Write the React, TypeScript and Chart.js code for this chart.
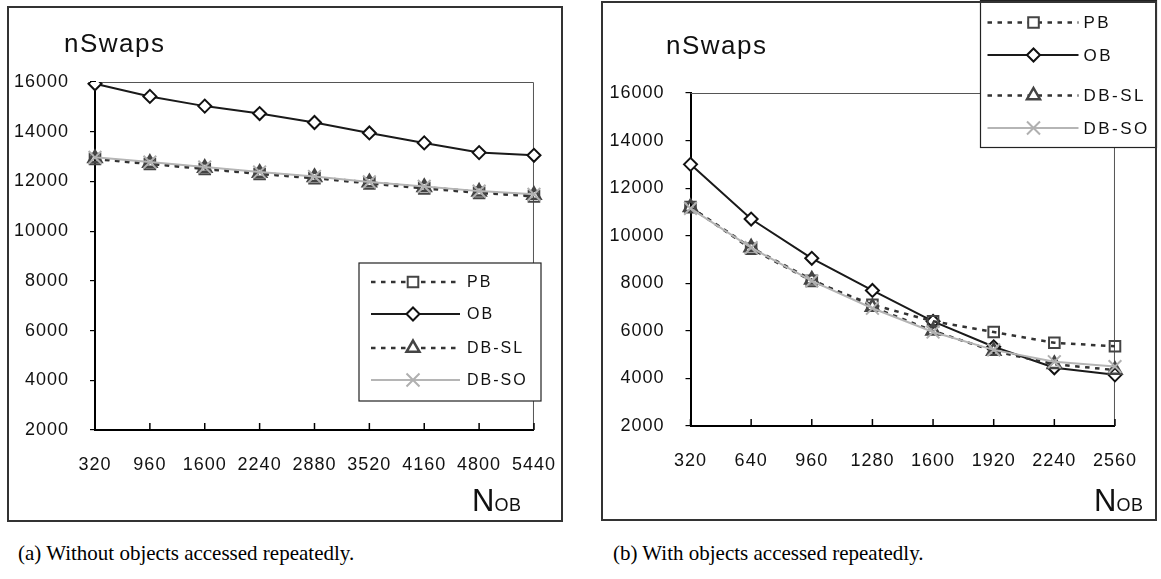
import React, { useEffect, useRef } from "react";
import { Chart, registerables } from "chart.js";

Chart.register(...registerables);

// ---------- data ----------
const seriesNames = ["PB", "OB", "DB-SL", "DB-SO"];
const yMin = 2000;
const yMax = 16000;
const yStep = 2000;

const catsA = ["320", "960", "1600", "2240", "2880", "3520", "4160", "4800", "5440"];
const pbA = [12900, 12700, 12500, 12300, 12130, 11920, 11720, 11540, 11400];
const obA = [15930, 15420, 15030, 14730, 14370, 13950, 13550, 13160, 13050];
const dbslA = [12930, 12740, 12540, 12340, 12170, 11960, 11770, 11580, 11450];
const dbsoA = [12970, 12780, 12580, 12380, 12200, 11980, 11800, 11610, 11480];

const catsB = ["320", "640", "960", "1280", "1600", "1920", "2240", "2560"];
const pbB = [11200, 9450, 8100, 7100, 6400, 5950, 5500, 5350];
const obB = [13000, 10700, 9050, 7700, 6400, 5330, 4450, 4150];
const dbslB = [11200, 9500, 8150, 7000, 6000, 5150, 4600, 4350];
const dbsoB = [11150, 9500, 8100, 6950, 5950, 5200, 4700, 4500];

const yTitle = "nSwaps";
const xTitleMain = "N";
const xTitleSub = "OB";
const captionA = "(a) Without objects accessed repeatedly.";
const captionB = "(b) With objects accessed repeatedly.";

// ---------- styles ----------
const styles = [
  { color: "#333333", dash: [4.5, 5.5], width: 2.5, point: "rect", radius: 7.5, pColor: "#444444", pFill: "rgba(255,255,255,0)", pWidth: 2, order: 2 },
  { color: "#1a1a1a", dash: [], width: 2, point: "rectRot", radius: 6.5, pColor: "#111111", pFill: "#ffffff", pWidth: 2, order: 3 },
  { color: "#333333", dash: [4.5, 5.5], width: 2.5, point: "triangle", radius: 7.5, pColor: "#444444", pFill: "rgba(255,255,255,0)", pWidth: 2.5, order: 1 },
  { color: "#b5b5b5", dash: [], width: 2, point: "crossRot", radius: 9, pColor: "#b0b0b0", pFill: "rgba(255,255,255,0)", pWidth: 2, order: 0 },
];

const TICK_FONT = { family: "'Liberation Sans', Arial, sans-serif", size: 18 };

function drawMarker(ctx: CanvasRenderingContext2D, kind: string, x: number, y: number, st: any) {
  ctx.save();
  ctx.setLineDash([]);
  ctx.lineWidth = st.pWidth;
  ctx.strokeStyle = st.pColor;
  ctx.fillStyle = "#ffffff";
  ctx.beginPath();
  if (kind === "rect") {
    const s = 5.3;
    ctx.rect(x - s, y - s, 2 * s, 2 * s);
    ctx.fill();
    ctx.stroke();
  } else if (kind === "rectRot") {
    const r = 6.5;
    ctx.moveTo(x - r, y);
    ctx.lineTo(x, y - r);
    ctx.lineTo(x + r, y);
    ctx.lineTo(x, y + r);
    ctx.closePath();
    ctx.fill();
    ctx.stroke();
  } else if (kind === "triangle") {
    const r = 7.5;
    ctx.moveTo(x, y - r);
    ctx.lineTo(x + r * 0.866, y + r * 0.5);
    ctx.lineTo(x - r * 0.866, y + r * 0.5);
    ctx.closePath();
    ctx.fill();
    ctx.stroke();
  } else {
    const r = 6.5;
    ctx.moveTo(x - r, y - r);
    ctx.lineTo(x + r, y + r);
    ctx.moveTo(x + r, y - r);
    ctx.lineTo(x - r, y + r);
    ctx.stroke();
  }
  ctx.restore();
}

const decorPlugin = {
  id: "decor",
  beforeUpdate(chart: any) {
    chart.ctx.letterSpacing = "1px";
  },
  beforeDraw(chart: any) {
    chart.ctx.letterSpacing = "1px";
  },
  beforeDatasetsDraw(chart: any) {
    const { ctx, chartArea: a } = chart;
    ctx.save();
    ctx.strokeStyle = "#555555";
    ctx.lineWidth = 1;
    ctx.beginPath();
    ctx.moveTo(a.left, a.top + 0.5);
    ctx.lineTo(a.right - 0.5, a.top + 0.5);
    ctx.lineTo(a.right - 0.5, a.bottom);
    ctx.stroke();
    const xs = chart.scales.x;
    ctx.strokeStyle = "#000000";
    ctx.lineWidth = 1.5;
    xs.ticks.forEach((_: any, i: number) => {
      const px = xs.getPixelForTick(i);
      ctx.beginPath();
      ctx.moveTo(px, a.bottom);
      ctx.lineTo(px, a.bottom - 7);
      ctx.stroke();
    });
    ctx.restore();
  },
  afterDraw(chart: any, _args: any, opts: any) {
    const lg = opts && opts.box;
    if (!lg) return;
    const { ctx } = chart;
    ctx.save();
    ctx.fillStyle = "#ffffff";
    ctx.fillRect(lg.x, lg.y, lg.w, lg.h);
    ctx.strokeStyle = "#222222";
    ctx.lineWidth = 1.2;
    ctx.strokeRect(lg.x, lg.y, lg.w, lg.h);
    chart.data.datasets.forEach((ds: any, i: number) => {
      const st = styles[i];
      const y = lg.y + lg.rows[i];
      ctx.save();
      ctx.strokeStyle = ds.borderColor;
      ctx.lineWidth = ds.borderWidth;
      ctx.setLineDash(ds.borderDash || []);
      ctx.beginPath();
      ctx.moveTo(lg.x + lg.lineFrom, y);
      ctx.lineTo(lg.x + lg.lineTo, y);
      ctx.stroke();
      ctx.restore();
      drawMarker(ctx, st.point, lg.x + lg.marker, y, st);
      ctx.save();
      ctx.letterSpacing = lg.spacing;
      ctx.fillStyle = "#111111";
      ctx.font = `${lg.font}px 'Liberation Sans', Arial, sans-serif`;
      ctx.textBaseline = "middle";
      ctx.textAlign = "left";
      ctx.fillText(ds.label, lg.x + lg.text, y + 1);
      ctx.restore();
    });
    ctx.restore();
  },
};

function makeConfig(cats: string[], values: number[][], padding: any, yWidth: number, box: any) {
  return {
    type: "line" as const,
    data: {
      labels: cats,
      datasets: values.map((v, i) => {
        const st = styles[i];
        return {
          label: seriesNames[i],
          data: v,
          borderColor: st.color,
          borderDash: st.dash,
          borderWidth: st.width,
          pointStyle: st.point,
          pointRadius: st.radius,
          pointHoverRadius: st.radius,
          pointBorderColor: st.pColor,
          pointBackgroundColor: st.pFill,
          pointBorderWidth: st.pWidth,
          fill: false,
          tension: 0,
          order: st.order,
        };
      }),
    },
    options: {
      responsive: false,
      animation: false,
      devicePixelRatio: 1,
      layout: { padding },
      plugins: {
        legend: { display: false },
        title: { display: false },
        tooltip: { enabled: false },
        decor: { box },
      },
      scales: {
        x: {
          type: "category",
          offset: false,
          afterFit: (s: any) => {
            s.height = 60;
          },
          grid: { display: true, drawOnChartArea: false, drawTicks: false, color: "#000" },
          border: { display: true, color: "#000000", width: 2 },
          ticks: { color: "#111111", font: TICK_FONT, padding: 24, maxRotation: 0, autoSkip: false },
        },
        y: {
          min: yMin,
          max: yMax,
          afterFit: (s: any) => {
            s.width = yWidth;
          },
          grid: { display: true, drawOnChartArea: false, drawTicks: true, tickLength: 5, color: "#000000", lineWidth: 1.2 },
          border: { display: true, color: "#000000", width: 2 },
          ticks: {
            stepSize: yStep,
            color: "#111111",
            font: TICK_FONT,
            padding: 21,
            callback: (v: any) => String(v),
          },
        },
      },
    },
    plugins: [decorPlugin],
  };
}

function ChartCanvas({ cfg, left, width, height }: any) {
  const ref = useRef<HTMLCanvasElement | null>(null);
  useEffect(() => {
    if (!ref.current) return;
    const chart = new Chart(ref.current, cfg);
    return () => chart.destroy();
  }, []);
  return (
    <canvas
      ref={ref}
      width={width}
      height={height}
      style={{ position: "absolute", left, top: 0, width, height }}
    />
  );
}

const titleStyle: any = {
  position: "absolute",
  fontFamily: "'Liberation Sans', Arial, sans-serif",
  fontSize: 26,
  lineHeight: "26px",
  letterSpacing: "1.5px",
  color: "#111",
  whiteSpace: "nowrap",
};

function XTitle({ left, top }: any) {
  return (
    <div style={{ position: "absolute", left, top, fontFamily: "'Liberation Sans', Arial, sans-serif", color: "#111", whiteSpace: "nowrap", lineHeight: "30px" }}>
      <span style={{ fontSize: 31 }}>{xTitleMain}</span>
      <span style={{ fontSize: 18, letterSpacing: "0.5px" }}>{xTitleSub}</span>
    </div>
  );
}

const captionStyle: any = {
  position: "absolute",
  fontFamily: "'Liberation Serif', 'DejaVu Serif', serif",
  fontSize: 21,
  lineHeight: "24px",
  color: "#000",
  whiteSpace: "nowrap",
};

export default function App() {
  const cfgA = makeConfig(
    catsA,
    [pbA, obA, dbslA, dbsoA],
    { left: 5, right: 39, top: 82, bottom: 35 },
    90,
    { x: 359, y: 263, w: 182, h: 138, rows: [19, 51, 85, 117], lineFrom: 12, lineTo: 101, marker: 54, text: 108, font: 16, spacing: "2px" }
  );
  const cfgB = makeConfig(
    catsB,
    [pbB, obB, dbslB, dbsoB],
    { left: 10.5, right: 26, top: 93, bottom: 39 },
    100,
    { x: 400.5, y: 0.5, w: 176, h: 147, rows: [22, 54.5, 95, 127.5], lineFrom: 7, lineTo: 98, marker: 53, text: 103, font: 17, spacing: "2.5px" }
  );
  return (
    <div style={{ position: "fixed", left: 0, top: 0, width: 1161, height: 579, background: "#fff", overflow: "hidden" }}>
      <ChartCanvas cfg={cfgA} left={0} width={580} height={525} />
      <ChartCanvas cfg={cfgB} left={580} width={581} height={525} />
      <div style={{ position: "absolute", left: 7, top: 6, width: 556, height: 516, border: "2px solid #333", boxSizing: "border-box", pointerEvents: "none" }} />
      <div style={{ position: "absolute", left: 601, top: 1, width: 556, height: 520, border: "2px solid #333", boxSizing: "border-box", pointerEvents: "none" }} />
      <div style={{ ...titleStyle, left: 64, top: 30 }}>{yTitle}</div>
      <div style={{ ...titleStyle, left: 666, top: 32 }}>{yTitle}</div>
      <XTitle left={472} top={486} />
      <XTitle left={1094} top={486} />
      <div style={{ ...captionStyle, left: 18, top: 541 }}>{captionA}</div>
      <div style={{ ...captionStyle, left: 613, top: 541 }}>{captionB}</div>
    </div>
  );
}
